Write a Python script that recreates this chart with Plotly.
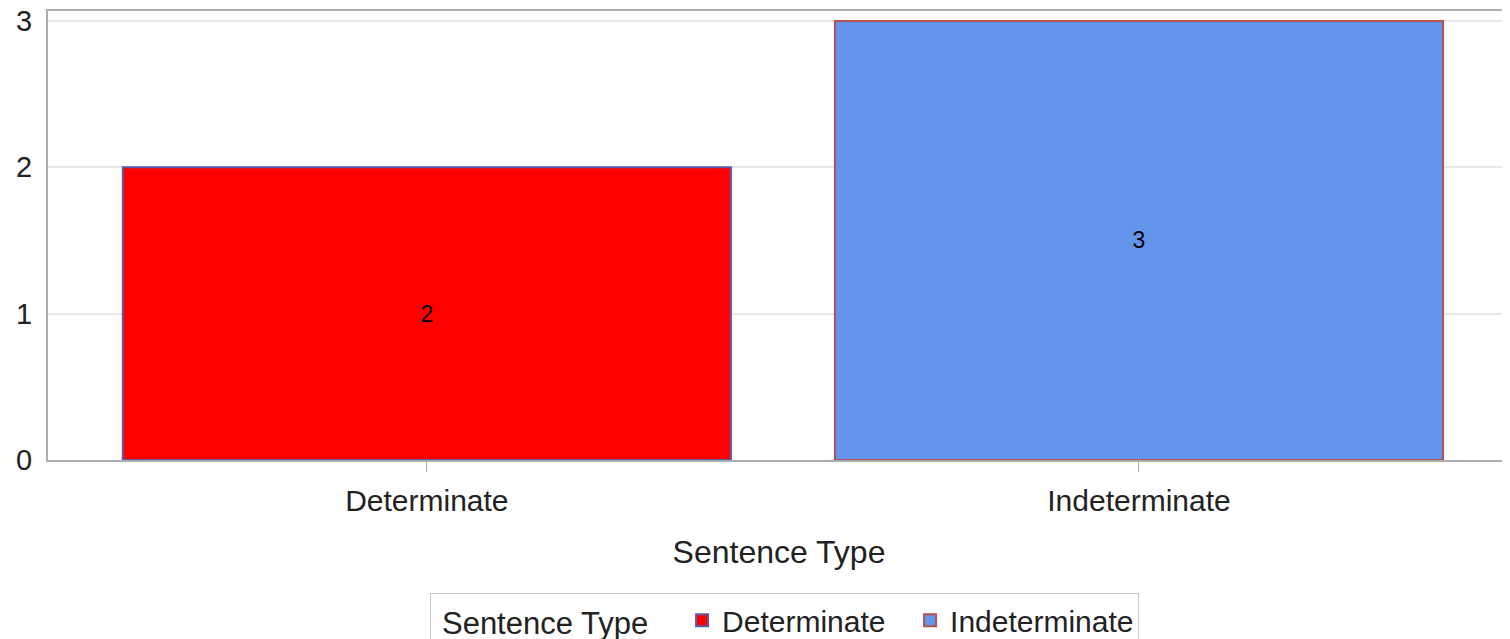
import plotly.graph_objects as go

categories = ["Determinate", "Indeterminate"]
counts = [2, 3]
fill_colors = ["#FF0000", "#6495ED"]
line_colors = ["#5B5BA8", "#B5524F"]
y_ticks = [0, 1, 2, 3]

FONT = "Liberation Sans, Arial, sans-serif"
NB = "\u00a0"

# the page body has an 8px default margin; size the figure to fit the window
OFF = 8

fig = go.Figure()
for cat, val, fc, lc in zip(categories, counts, fill_colors, line_colors):
    fig.add_trace(go.Bar(
        x=[cat], y=[val], name=cat,
        marker=dict(color=fc, line=dict(color=lc, width=2)),
        width=0.854,
        text=[str(val)], textposition="inside", insidetextanchor="middle",
        textangle=0,
        textfont=dict(color="black", size=23, family=FONT),
        offset=-0.427,
    ))

fig.update_layout(
    width=1510 - OFF, height=639 - OFF,
    margin=dict(l=48 - OFF, r=0, t=11 - OFF, b=179, autoexpand=False),
    paper_bgcolor="white", plot_bgcolor="white",
    font=dict(family=FONT, color="#222222"),
    barmode="overlay",
    showlegend=True,
    legend=dict(
        orientation="h",
        x=0.504, xanchor="center",
        y=-0.2965, yanchor="top",
        bordercolor="#C8C8C8", borderwidth=1,
        font=dict(size=30, family=FONT, color="#222222"),
        title=dict(text=NB + "Sentence Type" + NB * 3, font=dict(size=31, family=FONT, color="#222222"), side="left"),
        itemsizing="constant",
        entrywidth=183, entrywidthmode="pixels",
    ),
    xaxis=dict(
        type="category",
        categoryorder="array", categoryarray=categories,
        range=[-0.532, 1.521],
        automargin=False,
        showline=True, linecolor="#A8AEB4", linewidth=2, mirror=True,
        ticks="outside", ticklen=10, tickcolor="#A8AEB4", tickwidth=1,
        tickfont=dict(size=30, family=FONT, color="#222222"),
        ticklabelstandoff=3,
        showgrid=False,
        title=dict(text="Sentence Type", font=dict(size=32, family=FONT, color="#222222"), standoff=25),
    ),
    yaxis=dict(
        range=[0, 3.068],
        tickvals=y_ticks,
        automargin=False,
        showline=True, linecolor="#A8AEB4", linewidth=2,
        showgrid=True, gridcolor="#E8E8E8", gridwidth=2,
        zeroline=False,
        ticks="",
        tickfont=dict(size=29, family=FONT, color="#222222"),
        ticklabelstandoff=8,
        ticklabeloverflow="allow",
    ),
)

fig.write_html("out.html")
